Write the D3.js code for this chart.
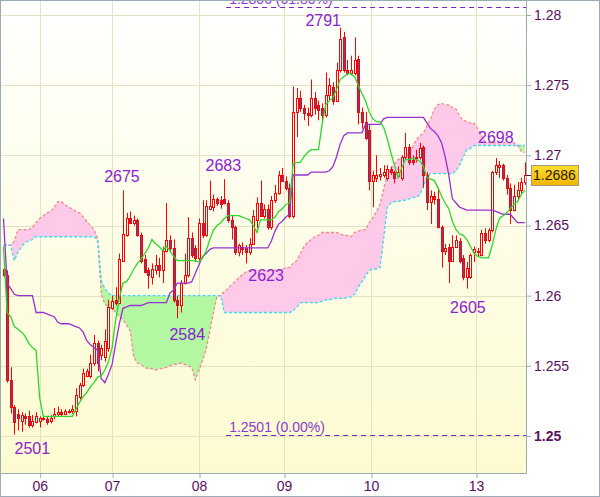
<!DOCTYPE html>
<html><head><meta charset="utf-8">
<script src="https://cdn.jsdelivr.net/npm/d3@7"></script>
<style>html,body{margin:0;padding:0;background:#fff;}svg{display:block;font-family:"Liberation Sans",Arial,sans-serif;}</style>
</head><body><svg id="c" width="600" height="497"></svg>
<script>
// ---- data (hourly candles) ----
const open = [1.2619,1.2615,1.2540,1.2521,1.2516,1.2511,1.2514,1.2514,1.2508,1.2510,
1.2511,1.2513,1.2512,1.2511,1.2514,1.2516,1.2517,1.2516,1.2517,1.2518,
1.2518,1.2528,1.2536,1.2543,1.2543,1.2552,1.2566,1.2558,1.2556,1.2563,
1.2591,1.2597,1.2595,1.2625,1.2643,1.2655,1.2652,1.2654,1.2643,1.2626,
1.2618,1.2613,1.2618,1.2622,1.2618,1.2632,1.2640,1.2634,1.2597,1.2593,
1.2609,1.2615,1.2641,1.2634,1.2627,1.2652,1.2643,1.2662,1.2663,1.2669,
1.2668,1.2669,1.2666,1.2654,1.2649,1.2631,1.2635,1.2634,1.2631,1.2637,
1.2654,1.2666,1.2657,1.2662,1.2649,1.2668,1.2673,1.2686,1.2682,1.2677,
1.2657,1.2731,1.2741,1.2734,1.2730,1.2729,1.2741,1.2736,1.2734,1.2729,
1.2743,1.2749,1.2739,1.2761,1.2784,1.2761,1.2759,1.2759,1.2769,1.2731,
1.2724,1.2718,1.2682,1.2684,1.2685,1.2686,1.2684,1.2690,1.2688,1.2685,
1.2684,1.2699,1.2706,1.2697,1.2698,1.2699,1.2706,1.2686,1.2667,1.2671,
1.2669,1.2649,1.2632,1.2635,1.2625,1.2635,1.2639,1.2627,1.2613,1.2613,
1.2631,1.2632,1.2629,1.2645,1.2640,1.2647,1.2688,1.2692,1.2693,1.2684,
1.2677,1.2661,1.2671,1.2675,1.2681];
const high = [1.2623,1.2618,1.2549,1.2522,1.2519,1.2517,1.2516,1.2518,1.2515,1.2517,
1.2514,1.2514,1.2514,1.2515,1.2520,1.2521,1.2519,1.2519,1.2519,1.2522,
1.2534,1.2538,1.2548,1.2548,1.2558,1.2572,1.2568,1.2565,1.2576,1.2597,
1.2600,1.2606,1.2630,1.2675,1.2659,1.2660,1.2657,1.2655,1.2645,1.2629,
1.2620,1.2623,1.2629,1.2627,1.2635,1.2666,1.2643,1.2640,1.2600,1.2611,
1.2630,1.2656,1.2645,1.2636,1.2655,1.2668,1.2668,1.2682,1.2672,1.2670,
1.2671,1.2683,1.2668,1.2657,1.2650,1.2637,1.2638,1.2636,1.2641,1.2661,
1.2670,1.2682,1.2665,1.2665,1.2671,1.2679,1.2689,1.2691,1.2685,1.2680,
1.2749,1.2748,1.2746,1.2736,1.2734,1.2754,1.2745,1.2739,1.2737,1.2759,
1.2755,1.2752,1.2766,1.2791,1.2788,1.2768,1.2771,1.2784,1.2771,1.2734,
1.2731,1.2722,1.2689,1.2700,1.2691,1.2693,1.2693,1.2692,1.2689,1.2692,
1.2700,1.2716,1.2708,1.2700,1.2704,1.2709,1.2707,1.2688,1.2675,1.2674,
1.2677,1.2650,1.2637,1.2637,1.2643,1.2643,1.2641,1.2629,1.2624,1.2630,
1.2635,1.2634,1.2647,1.2648,1.2648,1.2689,1.2698,1.2696,1.2694,1.2686,
1.2680,1.2679,1.2681,1.2684,1.2695];
const low = [1.2613,1.2538,1.2516,1.2501,1.2504,1.2503,1.2508,1.2506,1.2506,1.2509,
1.2506,1.2511,1.2508,1.2509,1.2512,1.2514,1.2514,1.2515,1.2516,1.2516,
1.2514,1.2526,1.2535,1.2542,1.2541,1.2550,1.2546,1.2554,1.2553,1.2560,
1.2590,1.2593,1.2594,1.2624,1.2642,1.2651,1.2650,1.2642,1.2623,1.2616,
1.2605,1.2608,1.2615,1.2613,1.2609,1.2631,1.2631,1.2595,1.2584,1.2588,
1.2608,1.2613,1.2627,1.2624,1.2624,1.2641,1.2642,1.2661,1.2660,1.2664,
1.2662,1.2665,1.2652,1.2640,1.2629,1.2628,1.2629,1.2623,1.2629,1.2636,
1.2648,1.2656,1.2655,1.2647,1.2647,1.2666,1.2672,1.2681,1.2675,1.2655,
1.2655,1.2713,1.2731,1.2725,1.2721,1.2727,1.2729,1.2725,1.2724,1.2727,
1.2739,1.2736,1.2738,1.2759,1.2759,1.2757,1.2757,1.2757,1.2722,1.2719,
1.2711,1.2675,1.2663,1.2681,1.2682,1.2684,1.2682,1.2686,1.2680,1.2684,
1.2682,1.2697,1.2693,1.2693,1.2695,1.2697,1.2677,1.2661,1.2651,1.2665,
1.2648,1.2620,1.2629,1.2609,1.2624,1.2634,1.2623,1.2611,1.2605,1.2612,
1.2624,1.2628,1.2628,1.2637,1.2638,1.2645,1.2686,1.2684,1.2682,1.2672,
1.2651,1.2660,1.2668,1.2673,1.2679];
const close = [1.2615,1.2540,1.2521,1.2510,1.2513,1.2515,1.2513,1.2508,1.2511,1.2514,
1.2513,1.2512,1.2510,1.2513,1.2516,1.2517,1.2516,1.2518,1.2518,1.2519,
1.2529,1.2536,1.2545,1.2546,1.2552,1.2566,1.2552,1.2563,1.2568,1.2592,
1.2596,1.2595,1.2626,1.2644,1.2655,1.2652,1.2654,1.2643,1.2625,1.2617,
1.2615,1.2619,1.2622,1.2618,1.2632,1.2640,1.2634,1.2597,1.2593,1.2609,
1.2615,1.2641,1.2629,1.2627,1.2652,1.2643,1.2664,1.2664,1.2669,1.2666,
1.2665,1.2666,1.2654,1.2649,1.2631,1.2636,1.2633,1.2631,1.2637,1.2657,
1.2666,1.2657,1.2662,1.2649,1.2668,1.2673,1.2686,1.2682,1.2677,1.2657,
1.2731,1.2741,1.2734,1.2730,1.2729,1.2741,1.2734,1.2732,1.2729,1.2743,
1.2750,1.2739,1.2761,1.2783,1.2761,1.2759,1.2761,1.2768,1.2731,1.2724,
1.2712,1.2682,1.2686,1.2686,1.2687,1.2688,1.2690,1.2688,1.2684,1.2688,
1.2699,1.2706,1.2695,1.2695,1.2699,1.2705,1.2686,1.2667,1.2671,1.2669,
1.2649,1.2632,1.2634,1.2625,1.2635,1.2640,1.2625,1.2613,1.2620,1.2629,
1.2633,1.2631,1.2645,1.2640,1.2647,1.2688,1.2693,1.2693,1.2684,1.2677,
1.2661,1.2671,1.2675,1.2681,1.2686];

// Ichimoku lines
const tenkan = [1.2635,1.2588,1.2585,1.2578,1.2576,1.2574,1.2571,1.2566,1.2563,1.2561,
1.2527,1.2514,1.2514,1.2514,1.2514,1.2514,1.2514,1.2514,1.2514,1.2514,
1.2519,1.2524,1.2528,1.2531,1.2535,1.2538,1.2542,1.2543,1.2547,1.2553,
1.2563,1.2583,1.2598,1.2609,1.2610,1.2614,1.2619,1.2623,1.2626,1.2630,
1.2634,1.2640,1.2637,1.2635,1.2632,1.2635,1.2632,1.2628,1.2625,1.2625,
1.2625,1.2625,1.2625,1.2625,1.2624,1.2627,1.2632,1.2640,1.2647,1.2650,
1.2652,1.2655,1.2657,1.2657,1.2657,1.2657,1.2656,1.2655,1.2654,1.2650,
1.2645,1.2654,1.2654,1.2654,1.2654,1.2656,1.2660,1.2662,1.2665,1.2666,
1.2694,1.2695,1.2695,1.2699,1.2702,1.2704,1.2704,1.2704,1.2722,1.2736,
1.2739,1.2741,1.2747,1.2754,1.2756,1.2758,1.2758,1.2756,1.2750,1.2744,
1.2739,1.2731,1.2726,1.2724,1.2724,1.2720,1.2712,1.2702,1.2693,1.2684,
1.2691,1.2697,1.2697,1.2698,1.2697,1.2696,1.2692,1.2684,1.2683,1.2682,
1.2677,1.2671,1.2666,1.2662,1.2653,1.2647,1.2644,1.2643,1.2640,1.2635,
1.2630,1.2628,1.2627,1.2627,1.2627,1.2636,1.2647,1.2655,1.2657,1.2659,
1.2662,1.2665,1.2667,1.2672,1.2675];
const kijun = [1.2655,1.2609,1.2605,1.2601,1.2600,1.2600,1.2600,1.2600,1.2600,1.2588,
1.2588,1.2588,1.2587,1.2586,1.2585,1.2581,1.2580,1.2580,1.2580,1.2579,
1.2578,1.2577,1.2574,1.2568,1.2565,1.2563,1.2561,1.2541,1.2538,1.2544,
1.2551,1.2566,1.2580,1.2591,1.2592,1.2593,1.2593,1.2593,1.2593,1.2594,
1.2595,1.2595,1.2595,1.2595,1.2595,1.2595,1.2602,1.2604,1.2609,1.2609,
1.2609,1.2609,1.2610,1.2616,1.2622,1.2628,1.2630,1.2633,1.2634,1.2634,
1.2634,1.2634,1.2634,1.2634,1.2634,1.2634,1.2634,1.2634,1.2634,1.2634,
1.2634,1.2634,1.2634,1.2634,1.2639,1.2646,1.2651,1.2653,1.2656,1.2658,
1.2686,1.2686,1.2686,1.2686,1.2686,1.2688,1.2688,1.2688,1.2688,1.2688,
1.2689,1.2692,1.2699,1.2708,1.2714,1.2716,1.2716,1.2716,1.2716,1.2716,
1.2722,1.2722,1.2722,1.2722,1.2722,1.2726,1.2727,1.2727,1.2727,1.2727,
1.2727,1.2727,1.2727,1.2727,1.2727,1.2727,1.2727,1.2723,1.2719,1.2717,
1.2714,1.2709,1.2699,1.2686,1.2669,1.2666,1.2663,1.2662,1.2661,1.2661,
1.2661,1.2661,1.2661,1.2661,1.2661,1.2661,1.2660,1.2659,1.2658,1.2658,
1.2658,1.2655,1.2652,1.2652,1.2652];
const spanA = [1.2636,1.2636,1.2636,1.2639,1.2647,1.2647,1.2647,1.2647,1.2649,1.2652,
1.2655,1.2657,1.2659,1.2660,1.2663,1.2667,1.2667,1.2665,1.2663,1.2662,
1.2660,1.2659,1.2656,1.2653,1.2650,1.2647,1.2641,1.2601,1.2594,1.2592,
1.2591,1.2588,1.2585,1.2583,1.2579,1.2575,1.2556,1.2552,1.2551,1.2549,
1.2548,1.2548,1.2547,1.2548,1.2548,1.2549,1.2550,1.2551,1.2551,1.2552,
1.2551,1.2550,1.2549,1.2540,1.2547,1.2554,1.2562,1.2575,1.2588,1.2600,
1.2600,1.2603,1.2605,1.2608,1.2610,1.2613,1.2615,1.2617,1.2618,1.2618,
1.2618,1.2618,1.2618,1.2618,1.2618,1.2618,1.2618,1.2619,1.2620,1.2620,
1.2623,1.2625,1.2630,1.2635,1.2638,1.2640,1.2642,1.2643,1.2645,1.2645,
1.2645,1.2645,1.2645,1.2644,1.2643,1.2643,1.2642,1.2645,1.2646,1.2647,
1.2647,1.2652,1.2655,1.2660,1.2665,1.2676,1.2686,1.2690,1.2694,1.2697,
1.2698,1.2699,1.2702,1.2706,1.2711,1.2714,1.2716,1.2721,1.2726,1.2733,
1.2736,1.2737,1.2736,1.2736,1.2734,1.2733,1.2728,1.2725,1.2724,1.2723,
1.2723,1.2719,1.2714,1.2710,1.2709,1.2709,1.2709,1.2709,1.2709,1.2709,
1.2709,1.2709,1.2707,1.2703,1.2702];
const spanB = [1.2636,1.2636,1.2636,1.2625,1.2631,1.2635,1.2638,1.2639,1.2640,1.2642,
1.2642,1.2642,1.2642,1.2642,1.2642,1.2642,1.2642,1.2642,1.2642,1.2642,
1.2642,1.2642,1.2642,1.2642,1.2642,1.2642,1.2640,1.2611,1.2605,1.2602,
1.2600,1.2600,1.2600,1.2600,1.2600,1.2600,1.2600,1.2600,1.2600,1.2600,
1.2600,1.2600,1.2600,1.2600,1.2600,1.2600,1.2600,1.2600,1.2600,1.2600,
1.2600,1.2600,1.2600,1.2600,1.2600,1.2600,1.2600,1.2600,1.2600,1.2600,
1.2600,1.2588,1.2588,1.2588,1.2588,1.2588,1.2588,1.2588,1.2588,1.2588,
1.2588,1.2588,1.2588,1.2588,1.2588,1.2588,1.2588,1.2588,1.2588,1.2588,
1.2589,1.2592,1.2595,1.2595,1.2595,1.2595,1.2595,1.2595,1.2596,1.2597,
1.2597,1.2598,1.2598,1.2598,1.2598,1.2599,1.2599,1.2601,1.2606,1.2610,
1.2614,1.2618,1.2619,1.2619,1.2620,1.2640,1.2663,1.2666,1.2667,1.2667,
1.2668,1.2668,1.2669,1.2670,1.2670,1.2672,1.2678,1.2685,1.2687,1.2687,
1.2687,1.2687,1.2687,1.2687,1.2687,1.2689,1.2693,1.2699,1.2704,1.2705,
1.2707,1.2707,1.2707,1.2707,1.2707,1.2707,1.2707,1.2707,1.2707,1.2707,
1.2707,1.2707,1.2707,1.2707,1.2707];

// axis ticks
const yTicks = [1.25, 1.255, 1.26, 1.265, 1.27, 1.275, 1.28];
const yTickLabels = ["1.25", "1.255", "1.26", "1.265", "1.27", "1.275", "1.28"];
const dayTicks = [10, 30, 54, 77.5, 101.5, 130.5];   // candle index where each day starts
const dayLabels = ["06", "07", "08", "09", "10", "13"];

// swing point labels
const swingIdx   = [3, 33, 48, 61, 67, 93, 128, 136];
const swingType  = ["low","high","low","high","low","high","low","high"];
const swingValue = [1.2501, 1.2675, 1.2584, 1.2683, 1.2623, 1.2791, 1.2605, 1.2698];

// fibonacci levels
const fibValues = [1.2806, 1.2501];
const fibLabels = ["1.2806 (61.80%)", "1.2501 (0.00%)"];
const fibStart = 61.5;
const lastPrice = 1.2686;

// ---- layout / styles ----
const PR = 526, PB = 473;
const swingDx = {3:18, 33:-1, 48:10, 61:-1, 67:20, 93:-17, 128:1, 136:0};
const swingDy = {3:19, 33:-8, 48:22, 61:-8, 67:18, 93:-1.5, 128:24, 136:-15};

const svg = d3.select("#c");
const N = open.length;
const idx = d3.range(N);
const x = d3.scaleLinear().domain([0, N - 1]).range([3.5, 524.8]);
const y = d3.scaleLinear().domain([1.25, 1.28]).range([436, 15]);

const defs = svg.append("defs");
const bg = defs.append("linearGradient").attr("id","bg").attr("x1",0).attr("y1",0).attr("x2",0).attr("y2",1);
bg.append("stop").attr("offset","0%").attr("stop-color","#ffffff");
bg.append("stop").attr("offset","100%").attr("stop-color","#fcfbd0");
const gold = defs.append("linearGradient").attr("id","gold").attr("x1",0).attr("y1",0).attr("x2",0).attr("y2",1);
gold.append("stop").attr("offset","0%").attr("stop-color","#ffdd33");
gold.append("stop").attr("offset","100%").attr("stop-color","#f2b600");
defs.append("clipPath").attr("id","plot").append("rect").attr("x",0).attr("y",0).attr("width",PR).attr("height",PB);

svg.append("rect").attr("width",600).attr("height",497).attr("fill","#fff");
svg.append("rect").attr("x",0).attr("y",0).attr("width",PR).attr("height",PB).attr("fill","url(#bg)");

const plot = svg.append("g").attr("clip-path","url(#plot)");

// grid
plot.selectAll("line.hg").data(yTicks).join("line").attr("class","hg")
  .attr("x1",0).attr("x2",PR).attr("y1",d=>Math.round(y(d))+0.5).attr("y2",d=>Math.round(y(d))+0.5)
  .attr("stroke","#e3e3c3").attr("stroke-width",1);
plot.selectAll("line.vg").data(dayTicks).join("line").attr("class","vg")
  .attr("y1",0).attr("y2",PB).attr("x1",d=>Math.round(x(d))+0.5).attr("x2",d=>Math.round(x(d))+0.5)
  .attr("stroke","#e3e3c3").attr("stroke-width",1);

// cloud
const between = d3.area().x(i=>x(i)).y0(i=>y(spanA[i])).y1(i=>y(spanB[i]));
const aboveB = d3.area().x(i=>x(i)).y0(-20).y1(i=>y(spanB[i]));
const belowB = d3.area().x(i=>x(i)).y0(520).y1(i=>y(spanB[i]));
defs.append("clipPath").attr("id","cA").append("path").attr("d", aboveB(idx));
defs.append("clipPath").attr("id","cB").append("path").attr("d", belowB(idx));
plot.append("g").attr("clip-path","url(#cA)").append("path").attr("d", between(idx)).attr("fill","#ffc9ea");
plot.append("g").attr("clip-path","url(#cB)").append("path").attr("d", between(idx)).attr("fill","#b3f7a3");

const line = arr => d3.line().x(i=>x(i)).y(i=>y(arr[i]))(idx);
plot.append("path").attr("d", line(spanA)).attr("fill","none").attr("stroke","#f28a8a").attr("stroke-width",1.3).attr("stroke-dasharray","3,2");
plot.append("path").attr("d", line(spanB)).attr("fill","none").attr("stroke","#3ed8ee").attr("stroke-width",1.3).attr("stroke-dasharray","3,2");

// fib lines
fibValues.forEach((v,k)=>{
  const yy = Math.round(y(v))+0.5;
  plot.append("line").attr("x1",x(fibStart)).attr("x2",PR).attr("y1",yy).attr("y2",yy)
    .attr("stroke","#7a22c4").attr("stroke-width",1).attr("stroke-dasharray","5,4");
  plot.append("text").attr("x",x(fibStart)+3).attr("y",yy-4).attr("font-size",14)
    .attr("fill","#8a3ad0").text(fibLabels[k]);
});

// candles
const cg = plot.append("g").selectAll("g").data(idx).join("g");
cg.append("line")
  .attr("x1",i=>Math.round(x(i))+0.5).attr("x2",i=>Math.round(x(i))+0.5)
  .attr("y1",i=>y(high[i])).attr("y2",i=>y(low[i]))
  .attr("stroke","#ff0000").attr("stroke-width",1);
cg.append("rect")
  .attr("x",i=>Math.round(x(i))-0.5).attr("width",2)
  .attr("y",i=>Math.round(y(Math.max(open[i],close[i])))+0.5)
  .attr("height",i=>Math.max(0,Math.round(y(Math.min(open[i],close[i])))-Math.round(y(Math.max(open[i],close[i])))))
  .attr("fill",i=>close[i]>=open[i]?"#fffff2":"#5e4898")
  .attr("stroke","#ff0000").attr("stroke-width",1);

// tenkan / kijun
plot.append("path").attr("d", line(kijun)).attr("fill","none").attr("stroke","#9b30d0").attr("stroke-width",1.3);
plot.append("path").attr("d", line(tenkan)).attr("fill","none").attr("stroke","#2bd82b").attr("stroke-width",1.3);

// swing labels
plot.selectAll("text.sw").data(swingIdx).join("text").attr("class","sw")
  .attr("x",(d,k)=>x(d)+swingDx[d])
  .attr("y",(d,k)=>y(swingValue[k])+swingDy[d])
  .attr("text-anchor","middle").attr("font-size",16).attr("fill","#8b22d0")
  .text((d,k)=>String(Math.round(swingValue[k]*10000)).slice(1));

// axes
const axColor = "#9aabb5", txtColor = "#5a1060";
const yAx = svg.append("g").attr("transform",`translate(${PR},0)`)
  .call(d3.axisRight(y).tickValues(yTicks).tickSize(5).tickPadding(3).tickFormat((d,i)=>yTickLabels[i]));
yAx.select(".domain").remove();
yAx.selectAll("line").attr("stroke",axColor);
yAx.selectAll("text").attr("font-size",14).attr("fill",txtColor).attr("font-family","Liberation Sans, Arial, sans-serif")
  .attr("font-weight",(d)=>d===1.25?"bold":"normal");

const xAx = svg.append("g").attr("transform",`translate(0,${PB})`)
  .call(d3.axisBottom(x).tickValues(dayTicks).tickSize(5).tickPadding(3).tickFormat((d,i)=>dayLabels[i]));
xAx.select(".domain").remove();
xAx.selectAll("line").attr("stroke",axColor).attr("transform","translate(0.5,0)");
xAx.selectAll("text").attr("font-size",14).attr("fill",txtColor).attr("font-family","Liberation Sans, Arial, sans-serif");

svg.append("line").attr("x1",PR+0.5).attr("x2",PR+0.5).attr("y1",0).attr("y2",PB+0.5).attr("stroke",axColor);
svg.append("line").attr("x1",0).attr("x2",PR+0.5).attr("y1",PB+0.5).attr("y2",PB+0.5).attr("stroke",axColor);

// last price tag
const ly = Math.round(y(lastPrice))+0.5;
svg.append("line").attr("x1",PR).attr("x2",PR+6).attr("y1",ly).attr("y2",ly).attr("stroke",txtColor);
svg.append("rect").attr("x",531.5).attr("y",ly-10).attr("width",47).attr("height",20)
  .attr("fill","url(#gold)").attr("stroke","#a09a80");
svg.append("text").attr("x",533).attr("y",ly).attr("dy","0.35em").attr("font-size",14)
  .attr("fill","#2a1a00").text(lastPrice.toFixed(4));

// frame
svg.append("rect").attr("x",0.5).attr("y",0.5).attr("width",599).attr("height",496)
  .attr("fill","none").attr("stroke",axColor);
</script></body></html>
